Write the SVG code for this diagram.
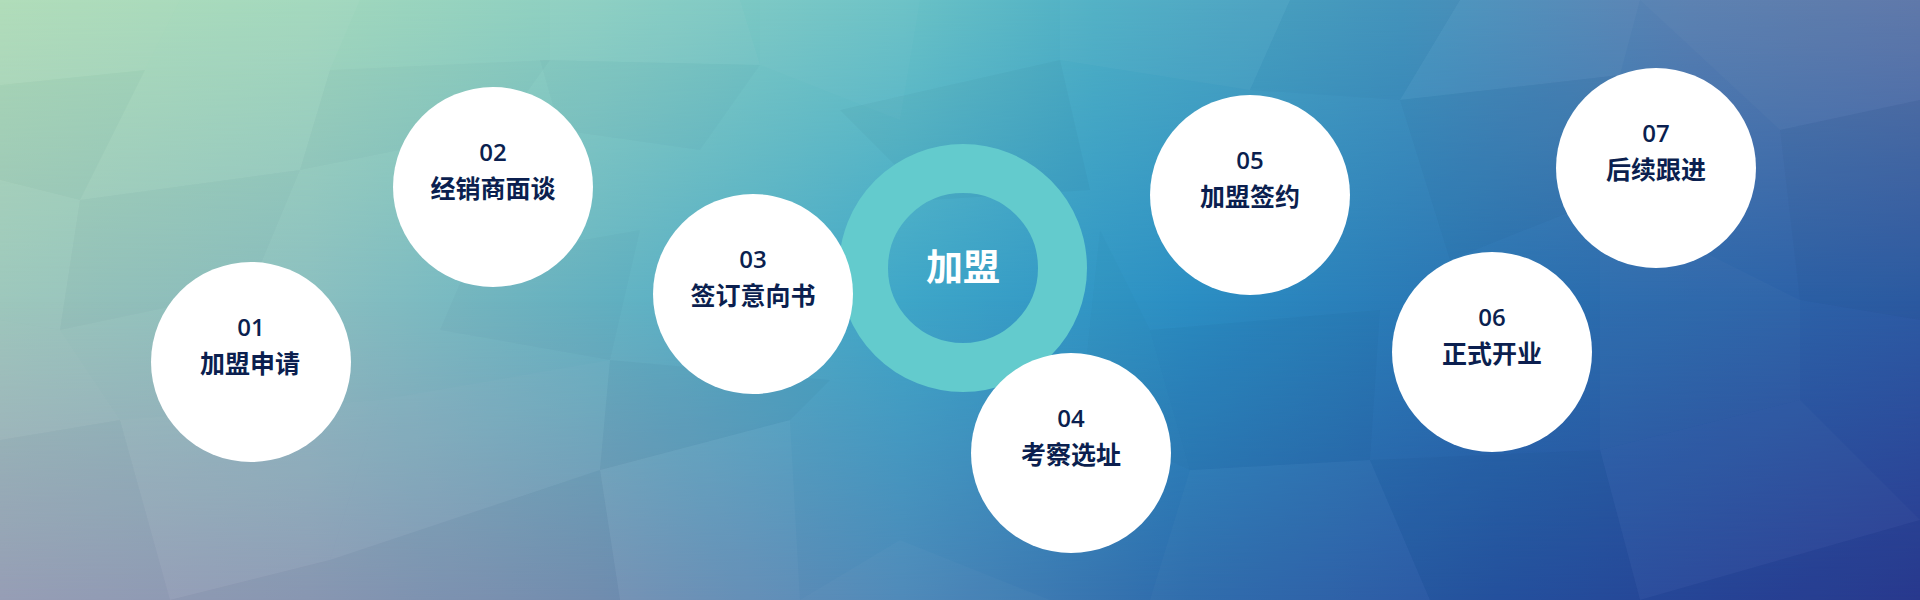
<svg xmlns="http://www.w3.org/2000/svg" width="1920" height="600" viewBox="0 0 1920 600">
<style>
.node{fill:#ffffff}
.num{font-family:"Open Sans","Noto Sans","Noto Sans CJK SC",sans-serif;font-size:24px;fill:#0b1f4f;text-anchor:middle;font-weight:600}
.lbl{font-family:"Noto Sans CJK SC","Noto Sans",sans-serif;font-size:25px;fill:#0b1f4f;text-anchor:middle;font-weight:600}
.ctr{font-family:"Noto Sans CJK SC","Noto Sans",sans-serif;font-size:37px;fill:#ffffff;text-anchor:middle;font-weight:600}
.lt{fill:#ffffff}
.dk{fill:#0a1a4a}
</style>
<defs>
<linearGradient id="gTop" gradientUnits="userSpaceOnUse" x1="0" y1="0" x2="1920" y2="0">
<stop offset="0" stop-color="#aedcb8"/>
<stop offset="0.16" stop-color="#a2d8bc"/>
<stop offset="0.31" stop-color="#8ccfc2"/>
<stop offset="0.47" stop-color="#6bc2c6"/>
<stop offset="0.57" stop-color="#4fb0c5"/>
<stop offset="0.73" stop-color="#4697bf"/>
<stop offset="0.88" stop-color="#5a7fb1"/>
<stop offset="1" stop-color="#5d76a8"/>
</linearGradient>
<linearGradient id="gMid" gradientUnits="userSpaceOnUse" x1="0" y1="0" x2="1920" y2="0">
<stop offset="0" stop-color="#9cc6bb"/>
<stop offset="0.16" stop-color="#8bbfc0"/>
<stop offset="0.31" stop-color="#66b4c3"/>
<stop offset="0.47" stop-color="#3ea6c8"/>
<stop offset="0.62" stop-color="#2b8ec3"/>
<stop offset="0.78" stop-color="#2a72b1"/>
<stop offset="1" stop-color="#2d5ba4"/>
</linearGradient>
<linearGradient id="gBot" gradientUnits="userSpaceOnUse" x1="0" y1="0" x2="1920" y2="0">
<stop offset="0" stop-color="#9aa0b8"/>
<stop offset="0.16" stop-color="#8d9ab5"/>
<stop offset="0.31" stop-color="#7590b2"/>
<stop offset="0.47" stop-color="#4c88b8"/>
<stop offset="0.62" stop-color="#2d6aab"/>
<stop offset="0.78" stop-color="#2652a0"/>
<stop offset="1" stop-color="#2a3990"/>
</linearGradient>
<linearGradient id="aMid" gradientUnits="userSpaceOnUse" x1="0" y1="0" x2="0" y2="600">
<stop offset="0" stop-color="#fff" stop-opacity="0"/>
<stop offset="0.5" stop-color="#fff" stop-opacity="1"/>
<stop offset="1" stop-color="#fff" stop-opacity="1"/>
</linearGradient>
<linearGradient id="aBot" gradientUnits="userSpaceOnUse" x1="0" y1="0" x2="0" y2="600">
<stop offset="0.5" stop-color="#fff" stop-opacity="0"/>
<stop offset="1" stop-color="#fff" stop-opacity="1"/>
</linearGradient>
<mask id="mMid" maskUnits="userSpaceOnUse" x="0" y="0" width="1920" height="600"><rect width="1920" height="600" fill="url(#aMid)"/></mask>
<mask id="mBot" maskUnits="userSpaceOnUse" x="0" y="0" width="1920" height="600"><rect width="1920" height="600" fill="url(#aBot)"/></mask>
</defs>
<g id="background">
<rect width="1920" height="600" fill="url(#gTop)"/>
<rect width="1920" height="600" fill="url(#gMid)" mask="url(#mMid)"/>
<rect width="1920" height="600" fill="url(#gBot)" mask="url(#mBot)"/>
<polygon class="lt" opacity="0.04" points="0,0 180,0 145,70 0,85"/>
<polygon class="lt" opacity="0.03" points="180,0 360,0 330,70 145,70"/>
<polygon class="dk" opacity="0.02" points="0,85 145,70 80,200 0,180"/>
<polygon class="lt" opacity="0.025" points="145,70 330,70 300,170 80,200"/>
<polygon class="dk" opacity="0.025" points="330,70 550,60 500,130 300,170"/>
<polygon class="lt" opacity="0.03" points="550,0 740,0 760,65 550,60"/>
<polygon class="dk" opacity="0.025" points="540,60 760,65 700,150 560,130"/>
<polygon class="lt" opacity="0.025" points="760,0 920,0 900,120 760,65"/>
<polygon class="dk" opacity="0.03" points="840,110 1060,60 1090,190 930,200"/>
<polygon class="lt" opacity="0.03" points="1060,0 1290,0 1250,90 1060,60"/>
<polygon class="dk" opacity="0.025" points="1290,0 1460,0 1400,100 1250,90"/>
<polygon class="lt" opacity="0.03" points="1460,0 1640,0 1620,75 1400,100"/>
<polygon class="dk" opacity="0.03" points="1400,100 1620,75 1600,200 1450,260"/>
<polygon class="lt" opacity="0.025" points="1640,0 1920,0 1920,100 1780,130"/>
<polygon class="dk" opacity="0.03" points="1780,130 1920,100 1920,320 1800,300"/>
<polygon class="lt" opacity="0.02" points="0,180 80,200 60,330 0,320"/>
<polygon class="dk" opacity="0.025" points="80,200 300,170 250,290 60,330"/>
<polygon class="lt" opacity="0.025" points="0,320 60,330 120,420 0,440"/>
<polygon class="dk" opacity="0.025" points="0,440 120,420 170,600 0,600"/>
<polygon class="lt" opacity="0.025" points="120,420 380,400 330,560 170,600"/>
<polygon class="dk" opacity="0.03" points="330,560 600,470 620,600 170,600"/>
<polygon class="lt" opacity="0.025" points="380,400 610,360 600,470 330,560"/>
<polygon class="dk" opacity="0.025" points="470,260 640,230 610,360 440,330"/>
<polygon class="lt" opacity="0.03" points="600,470 790,420 800,600 620,600"/>
<polygon class="dk" opacity="0.03" points="610,360 830,380 790,420 600,470"/>
<polygon class="lt" opacity="0.025" points="800,600 900,540 1050,600"/>
<polygon class="dk" opacity="0.03" points="1150,330 1380,310 1370,460 1190,470"/>
<polygon class="lt" opacity="0.025" points="1190,470 1370,460 1430,600 1150,600"/>
<polygon class="dk" opacity="0.03" points="1370,460 1600,450 1640,600 1430,600"/>
<polygon class="lt" opacity="0.025" points="1600,450 1800,400 1920,520 1640,600"/>
<polygon class="dk" opacity="0.03" points="1640,600 1920,520 1920,600"/>
<polygon class="lt" opacity="0.02" points="1600,200 1800,300 1800,400 1600,450"/>
<polygon class="dk" opacity="0.02" points="1100,230 1150,330 1190,470 1080,420"/>
</g>
<g id="connectors"></g>
<g id="center">
<circle cx="963" cy="268" r="99.5" fill="none" stroke="#63cbcd" stroke-width="49"/>
<text class="ctr" x="963" y="281">加盟</text>
</g>
<g id="step01">
<circle class="node" cx="251" cy="362" r="100"/>
<text class="num" x="251" y="336">01</text>
<text class="lbl" x="250" y="373">加盟申请</text>
</g>
<g id="step02">
<circle class="node" cx="493" cy="187" r="100"/>
<text class="num" x="493" y="161">02</text>
<text class="lbl" x="493" y="198">经销商面谈</text>
</g>
<g id="step03">
<circle class="node" cx="753" cy="294" r="100"/>
<text class="num" x="753" y="268">03</text>
<text class="lbl" x="753" y="305">签订意向书</text>
</g>
<g id="step04">
<circle class="node" cx="1071" cy="453" r="100"/>
<text class="num" x="1071" y="427">04</text>
<text class="lbl" x="1071" y="464">考察选址</text>
</g>
<g id="step05">
<circle class="node" cx="1250" cy="195" r="100"/>
<text class="num" x="1250" y="169">05</text>
<text class="lbl" x="1250" y="206">加盟签约</text>
</g>
<g id="step06">
<circle class="node" cx="1492" cy="352" r="100"/>
<text class="num" x="1492" y="326">06</text>
<text class="lbl" x="1492" y="363">正式开业</text>
</g>
<g id="step07">
<circle class="node" cx="1656" cy="168" r="100"/>
<text class="num" x="1656" y="142">07</text>
<text class="lbl" x="1656" y="179">后续跟进</text>
</g>
</svg>
